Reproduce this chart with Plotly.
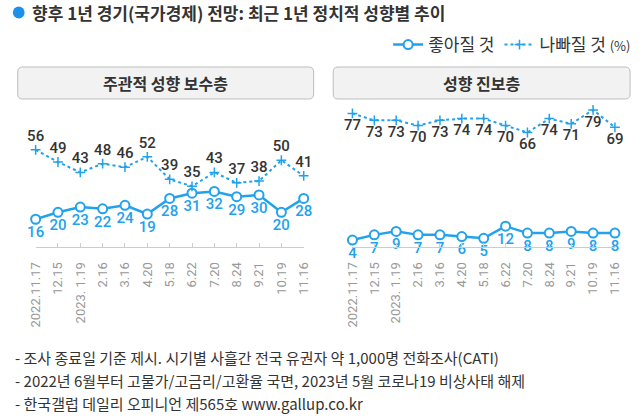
import plotly.graph_objects as go

dates = ["2022.11.17", "12.15", "2023. 1.19", "2.16", "3.16", "4.20", "5.18",
         "6.22", "7.20", "8.24", "9.21", "10.19", "11.16"]
cons_good = [16, 20, 23, 22, 24, 19, 28, 31, 32, 29, 30, 20, 28]
cons_bad = [56, 49, 43, 48, 46, 52, 39, 35, 43, 37, 38, 50, 41]
prog_good = [4, 7, 9, 7, 7, 6, 5, 12, 8, 8, 9, 8, 8]
prog_bad = [77, 73, 73, 70, 73, 74, 74, 70, 66, 74, 71, 79, 69]
panel_titles = ["주관적 성향 보수층", "성향 진보층"]
series_names = ["좋아질 것", "나빠질 것 <span style='font-size:13px'>(%)</span>"]
title_text = "향후 1년 경기(국가경제) 전망: 최근 1년 정치적 성향별 추이"
footer = [
    "- 조사 종료일 기준 제시. 시기별 사흘간 전국 유권자 약 1,000명 전화조사(CATI)",
    "- 2022년 6월부터 고물가/고금리/고환율 국면, 2023년 5월 코로나19 비상사태 해제",
    "- 한국갤럽 데일리 오피니언 제565호 www.gallup.co.kr",
]

W, H = 640, 418
BLUE = "#22A2EC"
KFONT = "Noto Sans CJK KR"
NFONT = "Roboto"
idx = list(range(len(dates)))

fig = go.Figure()

def px(x):
    return x / W

def py(y):
    return 1 - y / H

panels = [
    dict(xa="x", ya="y", good=cons_good, bad=cons_bad, badpos="top center", legend=True),
    dict(xa="x2", ya="y2", good=prog_good, bad=prog_bad, badpos="bottom center", legend=False),
]

for p in panels:
    fig.add_trace(go.Scatter(
        x=idx, y=p["good"], xaxis=p["xa"], yaxis=p["ya"], mode="lines+markers+text",
        name=series_names[0], showlegend=p["legend"], legendgroup="g",
        line=dict(color=BLUE, width=2.5),
        marker=dict(symbol="circle", size=9, color="white", line=dict(color=BLUE, width=2)),
        text=[str(v) for v in p["good"]], textposition="bottom center",
        textfont=dict(family=NFONT, size=15, color=BLUE, weight=500),
        cliponaxis=False,
    ))
    fig.add_trace(go.Scatter(
        x=idx, y=p["bad"], xaxis=p["xa"], yaxis=p["ya"], mode="lines+markers+text",
        name=series_names[1], showlegend=p["legend"], legendgroup="b",
        line=dict(color=BLUE, width=2, dash="dot"),
        marker=dict(symbol="cross-thin", size=7, color=BLUE, line=dict(color=BLUE, width=1.5)),
        text=[str(v) for v in p["bad"]], textposition=p["badpos"],
        textfont=dict(family=NFONT, size=15, color="#333333", weight=500),
        cliponaxis=False,
    ))

ydom = [py(247), py(247 - 80 * 1.735)]
xaxis_common = dict(
    range=[0, 12], tickmode="array", tickvals=idx, ticktext=dates, tickangle=-90,
    showline=True, linecolor="#cccccc", linewidth=1, ticks="inside", ticklen=4,
    tickcolor="#cccccc", showgrid=False, zeroline=False, ticklabelstandoff=9,
    tickfont=dict(family=NFONT, size=13, color="#999999"),
)
yaxis_common = dict(range=[0, 80], visible=False, showgrid=False, zeroline=False)

fig.update_layout(
    width=W, height=H, margin=dict(l=0, r=0, t=0, b=0),
    paper_bgcolor="white", plot_bgcolor="white",
    xaxis=dict(domain=[px(28.3), px(302.8)], anchor="y", **xaxis_common),
    xaxis2=dict(domain=[px(352.7), px(621.5)], anchor="y2", **xaxis_common),
    yaxis=dict(domain=ydom, anchor="x", **yaxis_common),
    yaxis2=dict(domain=ydom, anchor="x2", **yaxis_common),
    showlegend=True,
    legend=dict(orientation="h", x=1.005, xanchor="right", y=py(45), yanchor="middle",
                font=dict(family=KFONT, size=17, color="#333333"),
                bgcolor="rgba(0,0,0,0)", itemwidth=30, tracegroupgap=0),
)

def rrect(x0, y0, x1, y1, r):
    pts = [
        ("M", (x0 + r, y0)), ("L", (x1 - r, y0)), ("Q", (x1, y0), (x1, y0 + r)),
        ("L", (x1, y1 - r)), ("Q", (x1, y1), (x1 - r, y1)), ("L", (x0 + r, y1)),
        ("Q", (x0, y1), (x0, y1 - r)), ("L", (x0, y0 + r)), ("Q", (x0, y0), (x0 + r, y0)),
    ]
    s = ""
    for item in pts:
        cmd = item[0]
        coords = " ".join(f"{px(a):.5f},{py(b):.5f}" for a, b in item[1:])
        s += f"{cmd} {coords} "
    return s + "Z"

shapes = []
boxes = [(10, 67, 313, 99), (333, 67, 637, 99)]
for (x0, y0, x1, y1), t in zip(boxes, panel_titles):
    shapes.append(dict(type="path", xref="paper", yref="paper", path=rrect(x0, y0, x1, y1, 5),
                       fillcolor="#f2f2f2", line=dict(color="#bdbdbd", width=1)))
    fig.add_annotation(x=px((x0 + x1) / 2), y=py((y0 + y1) / 2), xref="paper", yref="paper",
                       text=t, showarrow=False, xanchor="center", yanchor="middle",
                       font=dict(family=KFONT, size=16, color="#333333", weight="bold"))

# title dot
shapes.append(dict(type="circle", xref="paper", yref="paper",
                   x0=px(5), x1=px(17), y0=py(6.5), y1=py(18.5),
                   fillcolor="#1E90EA", line=dict(width=0)))
fig.add_annotation(x=px(23), y=py(13), xref="paper", yref="paper", text=title_text,
                   showarrow=False, xanchor="left", yanchor="middle",
                   font=dict(family=KFONT, size=17, color="#333333", weight="bold"))

for i, line in enumerate(footer):
    fig.add_annotation(x=px(5), y=py(357 + i * 23), xref="paper", yref="paper", text=line,
                       showarrow=False, xanchor="left", yanchor="middle",
                       font=dict(family=KFONT, size=15, color="#333333"))

fig.update_layout(shapes=shapes)
fig.write_html("out.html")
